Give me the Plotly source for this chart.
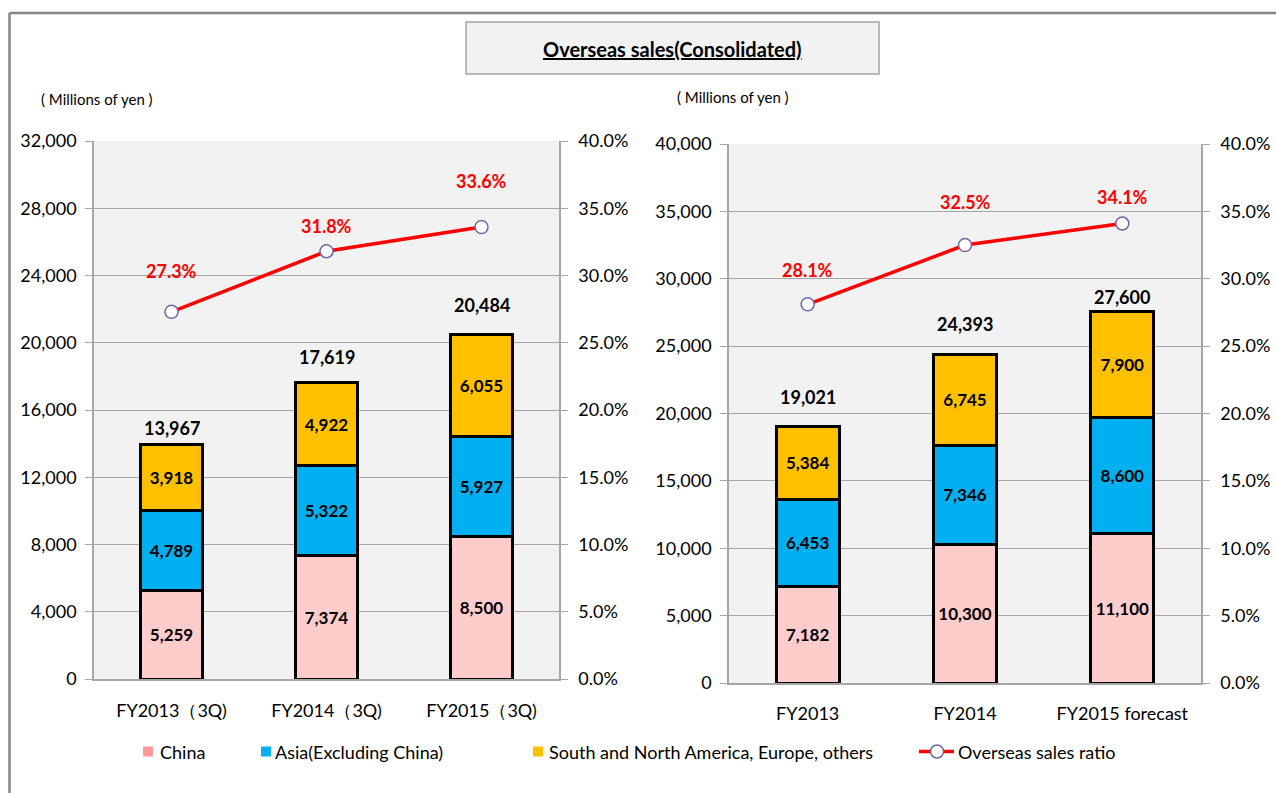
import plotly.graph_objects as go

W, H = 1276, 793
FONT = "Lato"

# ---------------- data ----------------
left_categories = ["FY2013（3Q)", "FY2014（3Q)", "FY2015（3Q)"]
left_china = [5259, 7374, 8500]
left_asia = [4789, 5322, 5927]
left_others = [3918, 4922, 6055]
left_totals = [13967, 17619, 20484]
left_ratio = [27.3, 31.8, 33.6]

right_categories = ["FY2013", "FY2014", "FY2015 forecast"]
right_china = [7182, 10300, 11100]
right_asia = [6453, 7346, 8600]
right_others = [5384, 6745, 7900]
right_totals = [19021, 24393, 27600]
right_ratio = [28.1, 32.5, 34.1]

series_names = ["China", "Asia(Excluding China)", "South and North America, Europe, others"]
ratio_name = "Overseas sales ratio"

left_yticks = [0, 4000, 8000, 12000, 16000, 20000, 24000, 28000, 32000]
right_yticks = [0, 5000, 10000, 15000, 20000, 25000, 30000, 35000, 40000]
ratio_ticks = [0, 5, 10, 15, 20, 25, 30, 35, 40]
ratio_ticktext = [f"{v:.1f}%" for v in ratio_ticks]

# ---------------- styles ----------------
bar_colors = ["#FFCCCC", "#00B0F0", "#FFC000"]
legend_colors = ["#FF9999", "#00B0F0", "#FFC000"]
line_color = "#FF0000"
marker_edge = "#7464A8"
grid = "#A6A6A6"
# label offsets (pixels) for totals / ratio labels
left_total_shift = [16, 26, 30]
right_total_shift = [30, 30, 14]
left_ratio_shift = [41, 25, 46]
right_ratio_shift = [34, 43, 27]


def px_x(p):
    return p / W


def px_y(p):
    return 1 - p / H


fig = go.Figure()


def add_chart(cats, china, asia, others, ratio, xa, ya, ya2):
    for vals, col in zip([china, asia, others], bar_colors):
        fig.add_trace(go.Bar(
            x=cats, y=vals, xaxis=xa, yaxis=ya,
            marker=dict(color=col, line=dict(color="#000000", width=3)),
            texttemplate="<b>%{y:,}</b>", textposition="inside",
            insidetextanchor="middle", constraintext="none",
            textfont=dict(family=FONT, size=17, color="#000000"),
            showlegend=False, hoverinfo="skip",
        ))
    fig.add_trace(go.Scatter(
        x=cats, y=ratio, xaxis=xa, yaxis=ya2, mode="lines+markers",
        line=dict(color=line_color, width=3.5),
        marker=dict(symbol="circle", size=13, color="#FFFFFF",
                    line=dict(color=marker_edge, width=1.5)),
        showlegend=False, hoverinfo="skip",
    ))


add_chart(left_categories, left_china, left_asia, left_others, left_ratio, "x", "y", "y2")
add_chart(right_categories, right_china, right_asia, right_others, right_ratio, "x2", "y3", "y4")

annotations = []


def add_labels(cats, totals, ratio, tshift, rshift, xr, yr, yr2):
    for c, t, s in zip(cats, totals, tshift):
        annotations.append(dict(x=c, y=t, xref=xr, yref=yr, text=f"<b>{t:,}</b>",
                                showarrow=False, xanchor="center", yanchor="middle", yshift=s,
                                font=dict(family=FONT, size=18, color="#000000")))
    for c, r, s in zip(cats, ratio, rshift):
        annotations.append(dict(x=c, y=r, xref=xr, yref=yr2, text=f"<b>{r:.1f}%</b>",
                                showarrow=False, xanchor="center", yanchor="middle", yshift=s,
                                font=dict(family=FONT, size=18, color=line_color)))


add_labels(left_categories, left_totals, left_ratio, left_total_shift, left_ratio_shift, "x", "y", "y2")
add_labels(right_categories, right_totals, right_ratio, right_total_shift, right_ratio_shift, "x2", "y3", "y4")


def paper_text(xp, yp, text, size, xanchor="center"):
    annotations.append(dict(x=px_x(xp), y=px_y(yp), xref="paper", yref="paper",
                            text=text, showarrow=False, xanchor=xanchor, yanchor="middle",
                            font=dict(family=FONT, size=size, color="#000000")))


# title and unit labels
paper_text(672, 49, "<b><u>Overseas sales(Consolidated)</u></b>", 20)
paper_text(97, 99, "( Millions of yen )", 15)
paper_text(733, 97, "( Millions of yen )", 15)

shapes = []
# outer frame
shapes.append(dict(type="line", xref="paper", yref="paper", x0=px_x(9.5), x1=px_x(9.5),
                   y0=0, y1=px_y(13), line=dict(color="#868686", width=2.5)))
shapes.append(dict(type="line", xref="paper", yref="paper", x0=px_x(9.5), x1=1,
                   y0=px_y(13), y1=px_y(13), line=dict(color="#868686", width=2.5)))
# title box
shapes.append(dict(type="rect", xref="paper", yref="paper", x0=px_x(466), x1=px_x(879),
                   y0=px_y(74), y1=px_y(22), fillcolor="#F2F2F2",
                   line=dict(color="#A6A6A6", width=1.5), layer="below"))

# legend (manual)
legend_items = [(143, 158, series_names[0]), (261, 273, series_names[1]),
                (533, 547, series_names[2])]
for (xs, xt, name), col in zip(legend_items, legend_colors):
    shapes.append(dict(type="rect", xref="paper", yref="paper", x0=px_x(xs), x1=px_x(xs + 10),
                       y0=px_y(756.5), y1=px_y(746.5), fillcolor=col, line=dict(width=0)))
    paper_text(xt, 751.5, name, 18, xanchor="left")
shapes.append(dict(type="line", xref="paper", yref="paper", x0=px_x(919), x1=px_x(954),
                   y0=px_y(751.5), y1=px_y(751.5), line=dict(color=line_color, width=3.5)))
shapes.append(dict(type="circle", xref="paper", yref="paper", x0=px_x(930.5), x1=px_x(943.5),
                   y0=px_y(758), y1=px_y(745), fillcolor="#FFFFFF",
                   line=dict(color=marker_edge, width=1.5)))
paper_text(956, 751.5, ratio_name, 18, xanchor="left")

tickfont = dict(family=FONT, size=18, color="#000000")

xaxis_common = dict(type="category", showgrid=False, showline=True, linecolor=grid,
                    linewidth=1.5, ticks="", tickfont=tickfont, fixedrange=True,
                    automargin=False)
yaxis_common = dict(showline=True, linecolor=grid, linewidth=1.5, ticks="outside",
                    ticklen=7, tickcolor=grid, tickfont=tickfont, zeroline=False,
                    fixedrange=True, automargin=False)

fig.update_layout(
    width=W, height=H, margin=dict(l=0, r=0, t=0, b=0, autoexpand=False), autosize=False,
    paper_bgcolor="#FFFFFF", plot_bgcolor="#F2F2F2",
    barmode="stack", bargap=0.6, showlegend=False,
    font=dict(family=FONT, color="#000000"),
    xaxis=dict(domain=[px_x(94), px_x(559)], anchor="y", ticklabelstandoff=15, **xaxis_common),
    xaxis2=dict(domain=[px_x(729), px_x(1201)], anchor="y3", ticklabelstandoff=14, **xaxis_common),
    yaxis=dict(domain=[px_y(679), px_y(141)], range=[0, 32000], tickvals=left_yticks,
               tickformat=",d", showgrid=True, gridcolor=grid, gridwidth=1,
               ticklabelstandoff=5, anchor="x", **yaxis_common),
    yaxis2=dict(overlaying="y", side="right", range=[0, 40], tickvals=ratio_ticks,
                ticktext=ratio_ticktext, showgrid=False,
                ticklabelstandoff=7, anchor="x", **yaxis_common),
    yaxis3=dict(domain=[px_y(683), px_y(144)], range=[0, 40000], tickvals=right_yticks,
                tickformat=",d", showgrid=True, gridcolor=grid, gridwidth=1,
                ticklabelstandoff=5, anchor="x2", **yaxis_common),
    yaxis4=dict(overlaying="y3", side="right", range=[0, 40], tickvals=ratio_ticks,
                ticktext=ratio_ticktext, showgrid=False,
                ticklabelstandoff=7, anchor="x2", **yaxis_common),
    annotations=annotations, shapes=shapes,
)

fig.write_html(
    "out.html",
    config={"displayModeBar": False},
    post_script=(
        "document.documentElement.style.margin='0';"
        "document.documentElement.style.overflow='hidden';"
        "document.body.style.margin='0';"
        "document.body.style.overflow='hidden';"
        "var gd=document.getElementById('{plot_id}');"
        "gd.style.position='fixed';gd.style.top='0px';gd.style.left='0px';"
    ),
)
